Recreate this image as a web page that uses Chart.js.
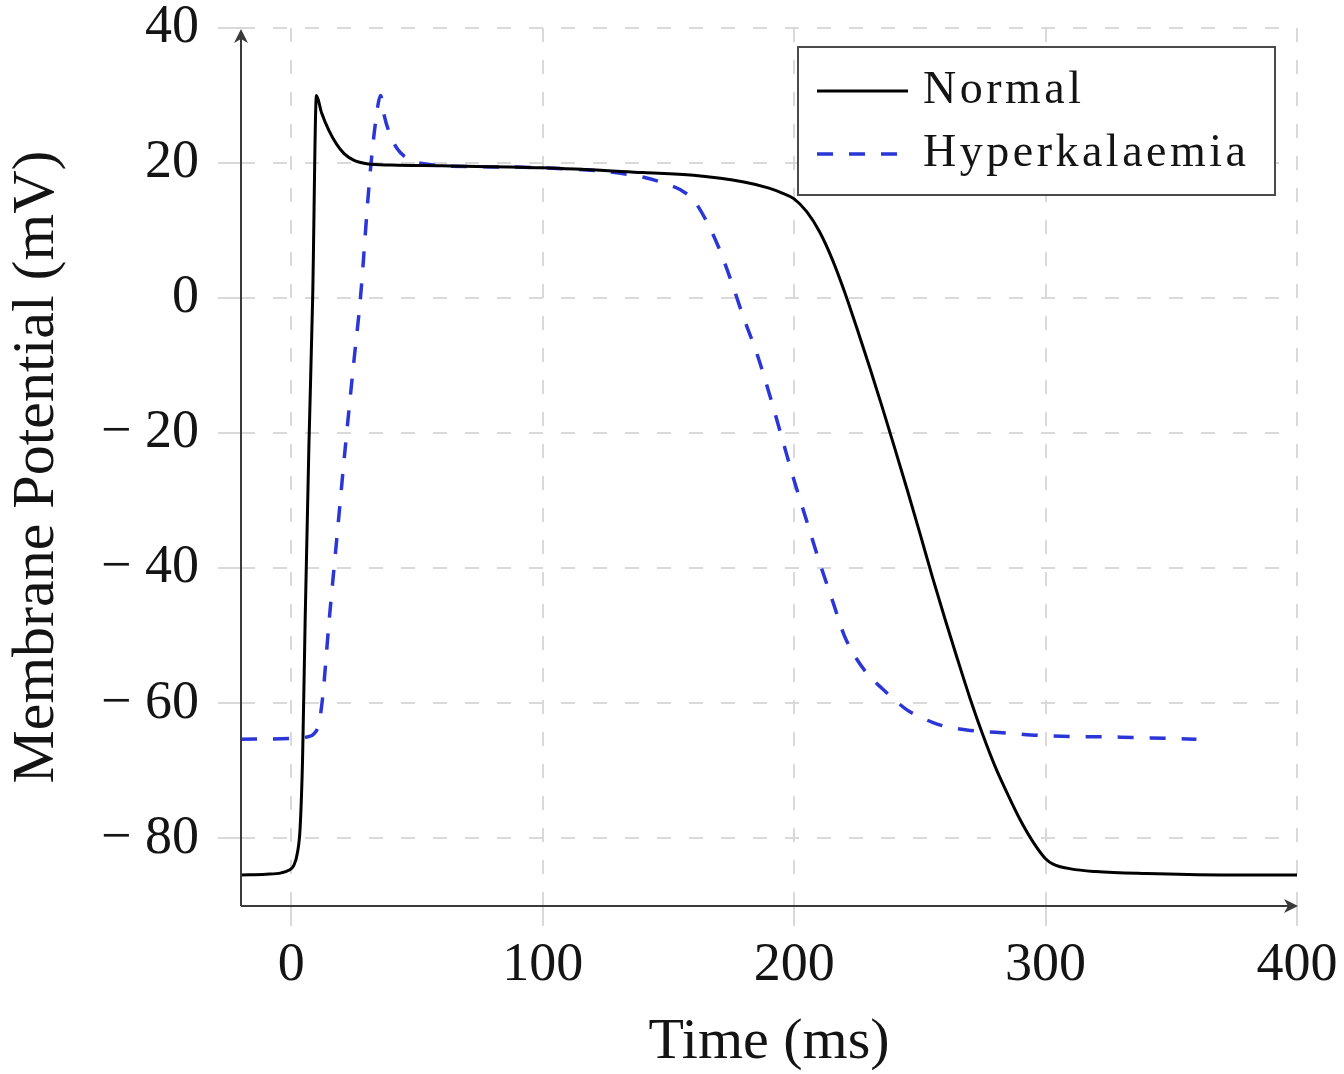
<!DOCTYPE html>
<html>
<head>
<meta charset="utf-8">
<script src="https://cdn.jsdelivr.net/npm/chart.js@4.4.1/dist/chart.umd.min.js"></script>
<style>
  html, body { margin: 0; padding: 0; background: #fff; }
  canvas { display: block; }
</style>
</head>
<body>
<canvas id="chart" width="1344" height="1074"></canvas>
<script>
// values
const normalTime = [-20, -10, -4, -1, 1, 2.5, 3.5, 4.5, 5.5, 7, 8.5, 10, 12, 15, 18, 21, 25, 30, 40, 60,
  100, 140, 160, 180, 190, 195, 200, 205, 210, 215, 220, 225, 230, 235, 240, 245, 250, 255, 260, 265,
  270, 275, 280, 285, 290, 295, 300, 303, 310, 320, 340, 370, 400];
const normalPotential = [-85.4, -85.3, -85.1, -84.7, -84, -82, -78.5, -68, -48, -22, 0, 30, 27.5, 24.8, 22.8, 21.4, 20.4, 19.9, 19.7, 19.6,
  19.3, 18.6, 18.2, 17.2, 16.3, 15.6, 14.7, 12.8, 9.9, 5.9, 1.0, -4.5, -10.2, -16.1, -22.2, -28.4, -34.8, -41.3, -47.5, -53.5,
  -59.3, -64.6, -69.4, -73.5, -77.3, -80.5, -83, -83.8, -84.5, -84.9, -85.2, -85.4, -85.4];

const hyperTime = [-20, 0, 6, 9, 11, 12.5, 15, 18, 21.5, 25, 27.5, 31, 33.5, 35.5, 37, 39.5, 42, 45, 49, 55, 60,
  100, 139, 150, 155, 160, 165, 170, 175, 180, 185, 190, 195, 200, 205, 210, 215, 220, 225, 230, 235,
  240, 245, 250, 255, 260, 270, 285, 300, 330, 360];
const hyperPotential = [-65.3, -65.2, -65, -64.5, -63, -59, -48, -36, -22, -9, 0, 17, 26, 30, 27, 24, 22.2, 21, 20.2, 19.8, 19.6,
  19.3, 18, 16.8, 16, 14.5, 11.5, 7.5, 2.5, -3, -8, -14, -20.5, -27, -33, -39, -44.5, -50, -53.5, -56, -57.8,
  -59.5, -61, -62, -62.8, -63.4, -64, -64.4, -64.8, -65, -65.3];

const timeTicks = [0, 100, 200, 300, 400];
const potentialTicks = [-80, -60, -40, -20, 0, 20, 40];
const seriesLabels = ["Normal", "Hyperkalaemia"];

const FONT = "'Liberation Serif', 'Times New Roman', serif";
const INK = "#141414";
const GRID = "#d9d9d9";
const BLUE = "#2a36d8";

const toPoints = (xs, ys) => xs.map((x, i) => ({ x: x, y: ys[i] }));

const axesArrows = {
  id: "axesArrows",
  afterDatasetsDraw(chart) {
    const { ctx, chartArea: a } = chart;
    ctx.save();
    ctx.strokeStyle = "#3a3a3a";
    ctx.fillStyle = "#3a3a3a";
    ctx.lineWidth = 2;
    ctx.beginPath();
    ctx.moveTo(a.left, a.bottom);
    ctx.lineTo(a.left, a.top + 6);
    ctx.moveTo(a.left, a.bottom);
    ctx.lineTo(a.right - 6, a.bottom);
    ctx.stroke();

    // arrow heads
    ctx.beginPath();
    ctx.moveTo(a.left, a.top + 1);
    ctx.lineTo(a.left - 7, a.top + 15);
    ctx.lineTo(a.left, a.top + 11);
    ctx.lineTo(a.left + 7, a.top + 15);
    ctx.closePath();
    ctx.fill();

    ctx.beginPath();
    ctx.moveTo(a.right + 1, a.bottom);
    ctx.lineTo(a.right - 13, a.bottom - 7);
    ctx.lineTo(a.right - 9, a.bottom);
    ctx.lineTo(a.right - 13, a.bottom + 7);
    ctx.closePath();
    ctx.fill();
    ctx.restore();
  },
};

const boxLegend = {
  id: "boxLegend",
  afterDraw(chart) {
    const { ctx, chartArea: a } = chart;
    const sets = chart.data.datasets;
    const right = a.right - 22;
    const left = right - 477;
    const top = a.top + 19;
    const h = 148;

    ctx.save();
    ctx.fillStyle = "#fff";
    ctx.fillRect(left, top, right - left, h);
    ctx.strokeStyle = "#4a4a4a";
    ctx.lineWidth = 2;
    ctx.strokeRect(left, top, right - left, h);

    ctx.font = "46px " + FONT;
    ctx.letterSpacing = "3.5px";
    ctx.textBaseline = "alphabetic";
    ctx.fillStyle = INK;

    sets.forEach((set, i) => {
      const rowY = top + 44 + i * 63;
      ctx.beginPath();
      ctx.strokeStyle = set.borderColor;
      ctx.lineWidth = set.borderWidth;
      ctx.setLineDash(set.borderDash || []);
      ctx.moveTo(left + 19, rowY);
      ctx.lineTo(left + (set.borderDash ? 103 : 110), rowY);
      ctx.stroke();
      ctx.setLineDash([]);
      ctx.fillText(set.label, left + 125, rowY + 12);
    });
    ctx.restore();
  },
};

new Chart(document.getElementById("chart"), {
  type: "line",
  data: {
    datasets: [
      {
        label: seriesLabels[0],
        data: toPoints(normalTime, normalPotential),
        borderColor: "#000",
        borderWidth: 3,
        pointRadius: 0,
        fill: false,
        cubicInterpolationMode: "monotone",
      },
      {
        label: seriesLabels[1],
        data: toPoints(hyperTime, hyperPotential),
        borderColor: BLUE,
        borderWidth: 3.5,
        borderDash: [16, 16],
        pointRadius: 0,
        fill: false,
        cubicInterpolationMode: "monotone",
      },
    ],
  },
  options: {
    responsive: false,
    animation: false,
    devicePixelRatio: 1,
    layout: {
      padding: { top: 28, right: 47, bottom: 0, left: 0 },
    },
    plugins: {
      legend: { display: false },
      tooltip: { enabled: false },
    },
    scales: {
      x: {
        type: "linear",
        min: -20,
        max: 400,
        afterBuildTicks: (scale) => {
          scale.ticks = timeTicks.map((v) => ({ value: v }));
        },
        afterFit: (scale) => {
          scale.height = 168;
          scale.paddingLeft = 0;
          scale.paddingRight = 0;
        },
        border: { display: false, dash: [14, 18] },
        grid: {
          color: GRID,
          lineWidth: 2,
          tickLength: 20,
          tickColor: GRID,
          tickWidth: 2,
        },
        ticks: {
          padding: 13,
          color: INK,
          maxRotation: 0,
          font: { family: FONT, size: 54, lineHeight: 1 },
        },
        title: {
          display: true,
          text: "Time (ms)",
          color: INK,
          padding: { top: 0, bottom: -4 },
          font: { family: FONT, size: 58, lineHeight: 1.2 },
        },
      },
      y: {
        type: "linear",
        min: -90,
        max: 40,
        afterBuildTicks: (scale) => {
          scale.ticks = potentialTicks.map((v) => ({ value: v }));
        },
        afterFit: (scale) => {
          scale.width = 241;
          scale.paddingTop = 0;
          scale.paddingBottom = 0;
        },
        border: { display: false, dash: [14, 18] },
        grid: {
          color: GRID,
          lineWidth: 2,
          tickLength: 23,
          tickColor: GRID,
          tickWidth: 2,
        },
        ticks: {
          padding: 19,
          color: INK,
          font: { family: FONT, size: 54, lineHeight: 1 },
          callback: (v) => (v < 0 ? "\u2212 " + Math.abs(v) : String(v)),
        },
        title: {
          display: true,
          text: "Membrane Potential (mV)",
          color: INK,
          padding: { top: 1, bottom: 0 },
          font: { family: FONT, size: 60, lineHeight: 1.2 },
        },
      },
    },
  },
  plugins: [axesArrows, boxLegend],
});
</script>
</body>
</html>
